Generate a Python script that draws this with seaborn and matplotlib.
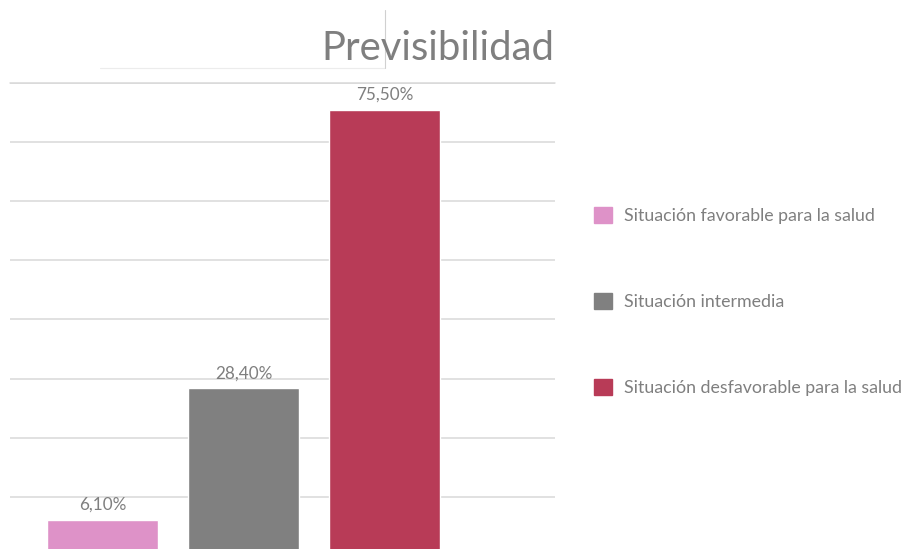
import numpy as np
import pandas as pd
import matplotlib
matplotlib.use("Agg")
import matplotlib.pyplot as plt
import seaborn as sns
from matplotlib.patches import Patch
from matplotlib.lines import Line2D

# ======================================================
# DATA
# ======================================================

categories = [
    "Situación favorable para la salud",
    "Situación intermedia",
    "Situación desfavorable para la salud",
]
values = [6.10, 28.40, 75.50]
value_labels = ["6,10%", "28,40%", "75,50%"]
colors = ["#DE92C8", "#808080", "#B83B57"]
title = "Previsibilidad"

TEXT = "#7f7f7f"

df = pd.DataFrame({"categoria": categories, "valor": values})

# ======================================================
# FIGURE
# ======================================================

sns.set_theme(style="white")
plt.rcParams["font.family"] = ["Lato", "DejaVu Sans"]

fig = plt.figure(figsize=(9.02, 5.49), dpi=100)
ax = fig.add_axes([10 / 902, 0, 545 / 902, 466 / 549])

sns.barplot(
    data=df,
    x="categoria",
    y="valor",
    hue="categoria",
    palette=colors,
    saturation=1,
    width=0.787,
    dodge=False,
    legend=False,
    ax=ax,
)

ax.set_xlim(-0.656, 3.21)
ax.set_ylim(1.18, 80)
ax.set_yticks(np.arange(10, 81, 10))
ax.yaxis.grid(True, color="#d9d9d9", linewidth=1.1)
ax.set_axisbelow(True)
ax.set_xticks([])
ax.set_yticklabels([])
ax.tick_params(left=False, bottom=False)
ax.set_xlabel("")
ax.set_ylabel("")
for s in ax.spines.values():
    s.set_visible(False)

# top gridline drawn explicitly so it is not clipped
ax.axhline(80, color="#d9d9d9", linewidth=1.1, clip_on=False)

# value labels
for i, (v, lab) in enumerate(zip(values, value_labels)):
    ax.annotate(
        lab,
        (i, v),
        xytext=(0, 5),
        textcoords="offset points",
        ha="center",
        va="bottom",
        fontsize=12.3,
        color=TEXT,
    )

# title
fig.text(437.5 / 902, 1 - 48 / 549, title, ha="center", va="center",
         fontsize=28.8, color=TEXT)

# faint artefact lines near the title
fig.add_artist(Line2D([100 / 902, 385 / 902], [1 - 68 / 549, 1 - 68 / 549],
                      color="#ececec", linewidth=0.8))
fig.add_artist(Line2D([385 / 902, 385 / 902], [1 - 10 / 549, 1 - 68 / 549],
                      color="#d0d0d0", linewidth=0.8))

# legend
handles = [Patch(facecolor=c, edgecolor=c) for c in colors]
leg = fig.legend(
    handles,
    categories,
    loc="upper left",
    bbox_to_anchor=(578 / 902, 1 - 191 / 549),
    frameon=False,
    fontsize=12.8,
    labelcolor=TEXT,
    handlelength=1.0,
    handleheight=1.0,
    handletextpad=0.7,
    labelspacing=3.89,
)

fig.savefig("out.png", dpi=100)
